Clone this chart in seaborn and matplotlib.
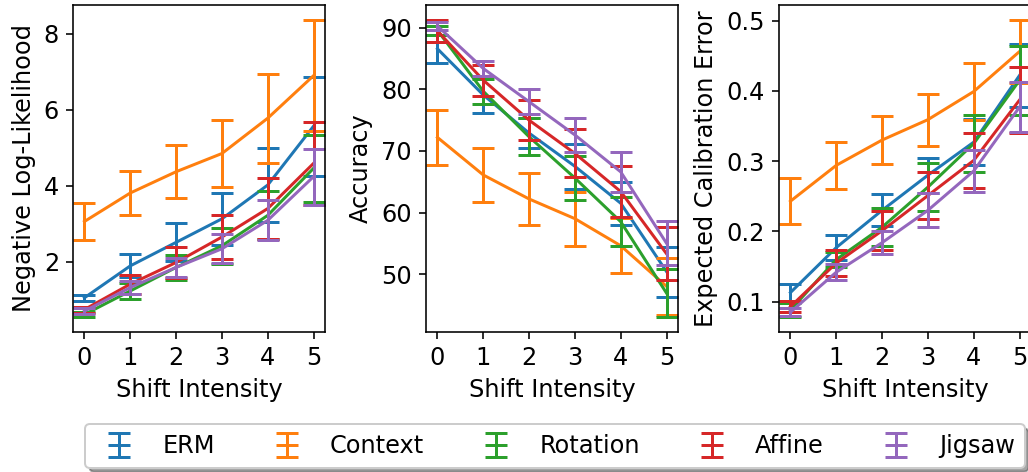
import numpy as np
import pandas as pd
import matplotlib
matplotlib.use("Agg")
import matplotlib.pyplot as plt
import seaborn as sns
from matplotlib.legend_handler import HandlerTuple

# data
methods = ["ERM", "Context", "Rotation", "Affine", "Jigsaw"]
shifts = [0, 1, 2, 3, 4, 5]

nll_mean = {
    "ERM":      [1.05, 1.89, 2.51, 3.13, 4.02, 5.57],
    "Context":  [3.06, 3.81, 4.37, 4.85, 5.78, 6.90],
    "Rotation": [0.61, 1.23, 1.85, 2.42, 3.22, 4.46],
    "Affine":   [0.74, 1.41, 1.98, 2.65, 3.40, 4.59],
    "Jigsaw":   [0.70, 1.32, 1.85, 2.34, 3.09, 4.24],
}
nll_err = {
    "ERM":      [0.08, 0.30, 0.50, 0.68, 0.97, 1.30],
    "Context":  [0.49, 0.58, 0.70, 0.87, 1.17, 1.47],
    "Rotation": [0.07, 0.20, 0.33, 0.47, 0.63, 0.88],
    "Affine":   [0.08, 0.25, 0.41, 0.58, 0.80, 1.09],
    "Jigsaw":   [0.07, 0.17, 0.25, 0.38, 0.53, 0.74],
}

acc_mean = {
    "ERM":      [86.6, 79.1, 72.9, 67.5, 61.5, 50.4],
    "Context":  [72.2, 66.1, 62.2, 59.0, 54.6, 48.0],
    "Rotation": [89.6, 79.7, 72.3, 65.6, 58.5, 46.9],
    "Affine":   [89.5, 81.5, 75.0, 69.6, 63.4, 53.3],
    "Jigsaw":   [90.3, 83.4, 78.0, 72.6, 66.6, 55.0],
}
acc_err = {
    "ERM":      [2.3, 3.0, 2.4, 3.6, 3.5, 4.05],
    "Context":  [4.5, 4.4, 4.3, 4.4, 4.5, 4.6],
    "Rotation": [0.7, 2.0, 3.0, 3.6, 4.0, 3.9],
    "Affine":   [1.8, 2.5, 3.2, 3.9, 4.2, 4.3],
    "Jigsaw":   [0.6, 1.2, 2.0, 2.7, 3.2, 3.6],
}

ece_mean = {
    "ERM":      [0.113, 0.177, 0.230, 0.280, 0.327, 0.422],
    "Context":  [0.243, 0.294, 0.330, 0.359, 0.399, 0.456],
    "Rotation": [0.088, 0.160, 0.206, 0.263, 0.325, 0.415],
    "Affine":   [0.093, 0.155, 0.201, 0.251, 0.301, 0.387],
    "Jigsaw":   [0.085, 0.142, 0.184, 0.230, 0.286, 0.377],
}
ece_err = {
    "ERM":      [0.012, 0.018, 0.023, 0.025, 0.033, 0.045],
    "Context":  [0.033, 0.033, 0.034, 0.037, 0.041, 0.045],
    "Rotation": [0.010, 0.010, 0.027, 0.034, 0.041, 0.049],
    "Affine":   [0.008, 0.018, 0.028, 0.034, 0.039, 0.047],
    "Jigsaw":   [0.006, 0.011, 0.016, 0.024, 0.030, 0.035],
}

palette = sns.color_palette("tab10", 5)
colors = dict(zip(methods, palette))

plt.rcParams["font.family"] = ["DejaVu Sans"]
plt.rcParams["font.size"] = 12

fig = plt.figure(figsize=(1028 / 144, 472 / 144), dpi=144)
lefts = [73 / 1028, 426 / 1028, 779 / 1028]
w, b, h = 252 / 1028, 1 - 332 / 472, 327 / 472

panels = [
    (nll_mean, nll_err, "Negative Log-Likelihood"),
    (acc_mean, acc_err, "Accuracy"),
    (ece_mean, ece_err, "Expected Calibration Error"),
]

handles = []
for i, (means, errs, ylabel) in enumerate(panels):
    ax = fig.add_axes([lefts[i], b, w, h])
    rows = []
    for m in methods:
        for s, v in zip(shifts, means[m]):
            rows.append([m, s, v])
    df = pd.DataFrame(rows, columns=["method", "shift", "value"])
    for m in methods:
        sub = df[df["method"] == m]
        sns.lineplot(data=sub, x="shift", y="value", color=colors[m],
                     lw=1.5, errorbar=None, legend=False, ax=ax)
        eb = ax.errorbar(shifts, means[m], yerr=errs[m], fmt="none",
                         ecolor=colors[m], elinewidth=1.5, capsize=5.5,
                         capthick=1.5, label=m)
        if i == 0:
            handles.append((ax.lines[-1], eb))
    ax.set_xticks(shifts)
    ax.set_xlabel("Shift Intensity")
    ax.set_ylabel(ylabel)

fig.legend(handles, methods, loc="center", ncol=5,
           bbox_to_anchor=(555 / 1028, 1 - 446 / 472),
           shadow=True, fancybox=True,
           handler_map={tuple: HandlerTuple(ndivide=1)})

fig.savefig("out.png", dpi=144)
